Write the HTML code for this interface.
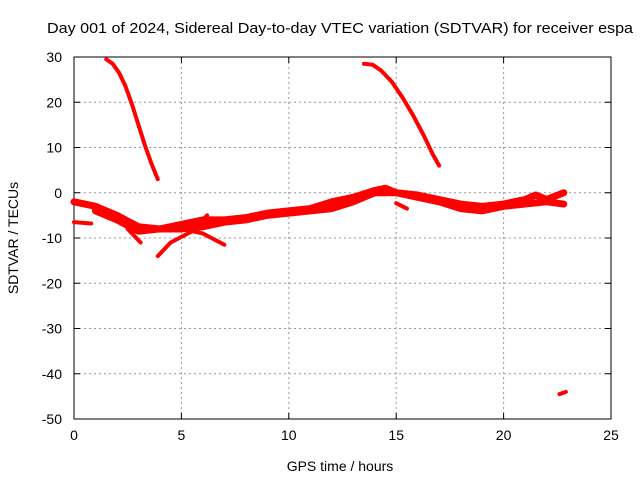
<!DOCTYPE html>
<html><head><meta charset="utf-8"><style>
body{margin:0;background:#fff;}
svg{display:block;font-family:"Liberation Sans",sans-serif;}
</style></head><body>
<svg id="chart" width="640" height="480">
<text x="47" y="33" font-size="15" textLength="586" lengthAdjust="spacingAndGlyphs">Day 001 of 2024, Sidereal Day-to-day VTEC variation (SDTVAR) for receiver espa</text>
<g id="grid"></g><g id="axes"></g><g id="series"></g>
<text x="340" y="471" font-size="14" text-anchor="middle">GPS time / hours</text>
<text transform="translate(18,238) rotate(-90)" font-size="14" text-anchor="middle">SDTVAR / TECUs</text>
</svg>
<script>
const xTicks=[0,5,10,15,20,25];
const yTicks=[30,20,10,0,-10,-20,-30,-40,-50];
const seg1H=[1.5,1.8,2.1,2.4,2.7,3,3.3,3.6,3.9];
const seg1V=[29.5,28.5,26.5,23.5,19.5,15,10.5,6.5,3];
const seg2H=[13.5,13.9,14.3,14.8,15.3,15.8,16.3,16.7,17];
const seg2V=[28.5,28.3,27,24.5,21,17,12.5,8.5,6];
const bandAH=[0,1,2,3,4,5,6,7,8,9,10,11,12,13,14,14.5,15,16,17,18,19,20,21,21.5,22,22.8];
const bandAV=[-2,-3,-5,-7.5,-8,-7,-6,-6,-5.5,-4.5,-4,-3.5,-2,-1,0.5,1,0,-0.5,-1.5,-2.5,-3,-2.5,-1.5,-0.5,-1.5,0];
const bandBH=[1,2,3,4,5,6,7,8,9,10,11,12,13,14,15,16,17,18,19,20,21,22,22.8];
const bandBV=[-4,-6,-8.5,-8,-8,-7.5,-6.5,-6,-5,-4.5,-4,-3.5,-2,0,0,-1,-2,-3.5,-4,-3,-2.5,-2,-2.5];
const pieceH=[[0,0.8],[2.5,3.1],[3.9,4.5,5.5,6.2],[5,6,7],[15,15.5],[22.6,22.9]];
const pieceV=[[-6.5,-6.8],[-8,-11],[-14,-11,-8.5,-5],[-8,-9,-11.5],[-2.3,-3.5],[-44.5,-44]];
const X0=74,X1=611,Y0=419,Y1=57;
const xs=h=>X0+(h-0)/25*(X1-X0);
const ys=v=>Y0-(v+50)/80*(Y0-Y1);
const NS="http://www.w3.org/2000/svg";
function mk(t,a,p){const e=document.createElementNS(NS,t);for(const k in a)e.setAttribute(k,a[k]);p.appendChild(e);return e;}
const grid=document.getElementById('grid'),axes=document.getElementById('axes'),ser=document.getElementById('series');
xTicks.forEach(t=>{const x=xs(t);
 if(t>0&&t<25){const l=mk('line',{x1:x,x2:x,y1:Y1,y2:Y0,stroke:'#999','stroke-dasharray':'2,3'},grid);
 
 }
 mk('line',{x1:x,x2:x,y1:Y0,y2:Y0-6,stroke:'#000'},axes);
 mk('line',{x1:x,x2:x,y1:Y1,y2:Y1+6,stroke:'#000'},axes);
 const tx=mk('text',{x:x,y:Y0+21,'font-size':14,'text-anchor':'middle'},axes);tx.textContent=t;
 
 });
yTicks.forEach(t=>{const y=ys(t);
 if(t>-50&&t<30){const l=mk('line',{x1:X0,x2:X1,y1:y,y2:y,stroke:'#999','stroke-dasharray':'2,3'},grid);
 
 }
 mk('line',{x1:X0,x2:X0+6,y1:y,y2:y,stroke:'#000'},axes);
 mk('line',{x1:X1,x2:X1-6,y1:y,y2:y,stroke:'#000'},axes);
 const tx=mk('text',{x:X0-12,y:y+5,'font-size':14,'text-anchor':'end'},axes);tx.textContent=t;
 
 });
const fr=mk('rect',{x:X0,y:Y1,width:X1-X0,height:Y0-Y1,fill:'none',stroke:'#000'},axes);


function line(H,V,w,name){const pts=H.map((h,i)=>xs(h)+','+ys(V[i])).join(' ');
 const p=mk('polyline',{points:pts,fill:'none',stroke:'#f00','stroke-width':w,'stroke-linejoin':'round','stroke-linecap':'round'},ser);
 
 }
line(seg1H,seg1V,4,'series-arc-1');
line(seg2H,seg2V,4,'series-arc-2');
line(bandAH,bandAV,7,'series-band-upper');
line(bandBH,bandBV,7,'series-band-lower');
pieceH.forEach((H,i)=>line(H,pieceV[i],4,'series-fragment'));
</script>
</body></html>
